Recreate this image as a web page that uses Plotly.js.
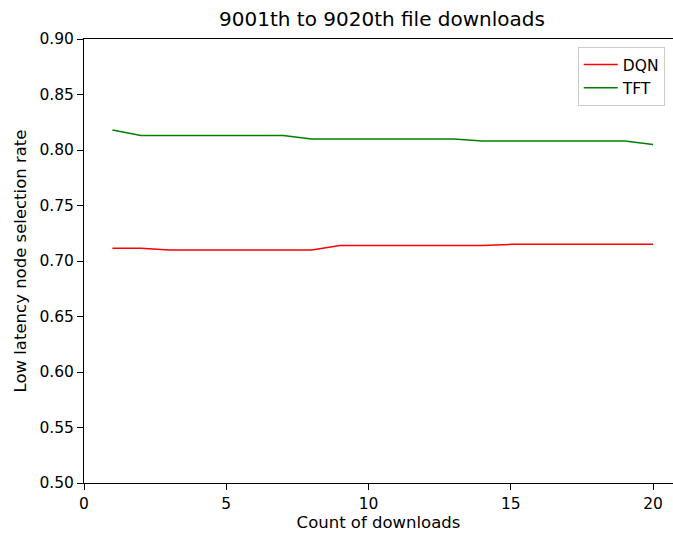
<!DOCTYPE html>
<html><head><meta charset="utf-8">
<script src="https://cdn.plot.ly/plotly-3.0.1.min.js"></script>
<style>html,body{margin:0;padding:0;overflow:hidden;background:#fff}</style>
</head><body><div id="chart" style="width:673px;height:537px"></div>
<script>
const downloads = [1,2,3,4,5,6,7,8,9,10,11,12,13,14,15,16,17,18,19,20];
const dqn = [0.7115,0.7115,0.710,0.710,0.710,0.710,0.710,0.710,0.714,0.714,0.714,0.714,0.714,0.714,0.715,0.715,0.715,0.715,0.715,0.715];
const tft = [0.818,0.813,0.813,0.813,0.813,0.813,0.813,0.810,0.810,0.810,0.810,0.810,0.810,0.808,0.808,0.808,0.808,0.808,0.808,0.805];
const yTicks = [0.50,0.55,0.60,0.65,0.70,0.75,0.80,0.85,0.90];
const xTicks = [0,5,10,15,20];

const fam = 'DejaVu Sans, sans-serif';
const tickFont = {family:fam, size:15.5, color:'#000'};
const labelFont = {family:fam, size:16.5, color:'#000'};
const traces = [
  {x:downloads, y:dqn, name:'DQN', mode:'lines', line:{color:'#ff0000', width:1.5}},
  {x:downloads, y:tft, name:'TFT', mode:'lines', line:{color:'#008000', width:1.5}}
];
const layout = {
  width:673, height:537,
  margin:{l:84, r:0, t:39, b:54},
  paper_bgcolor:'#fff', plot_bgcolor:'#fff',
  font:tickFont,
  title:{text:'9001th to 9020th file downloads', font:{family:fam, size:20, color:'#000'}, xref:'paper', x:(382-84)/589, xanchor:'center', y:1-19/537, yanchor:'middle'},
  xaxis:{range:[0,20.7], tickvals:xTicks, ticktext:xTicks.map(String), showgrid:false, zeroline:false,
    showline:true, mirror:true, linecolor:'#000', linewidth:1, ticks:'outside', ticklen:6, tickcolor:'#000',
    tickfont:tickFont, title:{text:'Count of downloads', font:labelFont, standoff:4}},
  yaxis:{range:[0.5,0.9], tickvals:yTicks, ticktext:yTicks.map(v=>v.toFixed(2)), showgrid:false, zeroline:false,
    showline:true, mirror:false, linecolor:'#000', linewidth:1, ticks:'outside', ticklen:6, tickcolor:'#000',
    tickfont:tickFont, title:{text:'Low latency node selection rate', font:labelFont, standoff:8}},
  showlegend:true,
  legend:{x:0.986, y:0.982, xanchor:'right', yanchor:'top', bgcolor:'rgba(255,255,255,0.8)', bordercolor:'#cccccc', borderwidth:1, font:tickFont, itemwidth:34, tracegroupgap:2}
};
Plotly.newPlot('chart', traces, layout, {displayModeBar:false, staticPlot:true});
</script></body></html>
